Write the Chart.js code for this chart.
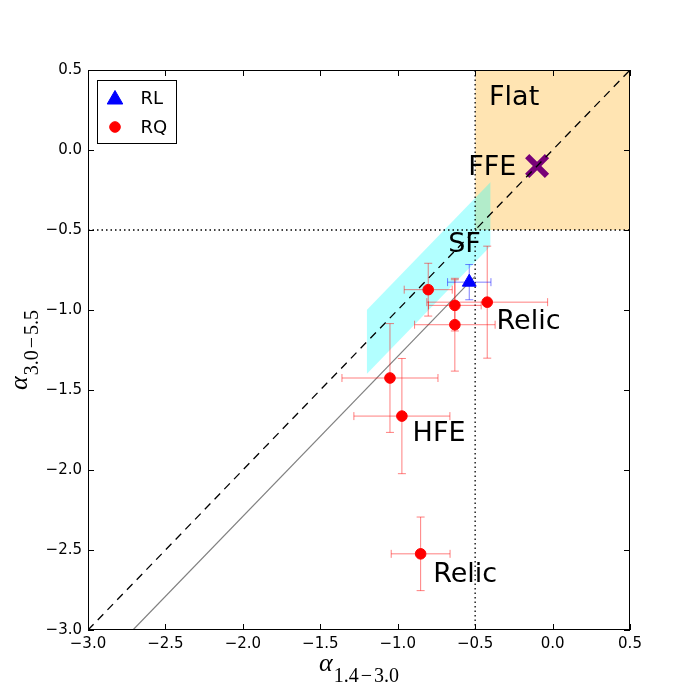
<!DOCTYPE html>
<html><head><meta charset="utf-8">
<script src="https://cdn.jsdelivr.net/npm/chart.js@4.4.1/dist/chart.umd.min.js"></script>
<style>html,body{margin:0;padding:0;background:#fff;} #c{display:block;}</style>
</head><body>
<canvas id="c" width="700" height="700"></canvas>
<script>
// ---- data ----
const tickValues = [-3.0, -2.5, -2.0, -1.5, -1.0, -0.5, 0.0, 0.5];

const rlX = [-0.538];
const rlY = [-0.826];
const rlXErr = [0.14];
const rlYErr = [0.11];

const rqX = [-0.803, -0.631, -0.631, -0.422, -1.050, -0.973, -0.852];
const rqY = [-0.873, -0.971, -1.092, -0.951, -1.425, -1.663, -2.524];
const rqXErr = [0.155, 0.17, 0.26, 0.39, 0.31, 0.31, 0.19];
const rqYErr = [0.165, 0.16, 0.29, 0.35, 0.34, 0.36, 0.23];

const ffeX = [-0.1];
const ffeY = [-0.1];

const flatX = [-0.5, 0.5];
const flatTop = [0.5, 0.5];
const flatBottom = -0.5;

const sfX = [-1.2, -0.4];
const sfUpper = [-1.0, -0.2];
const sfLower = [-1.4, -0.6];

const oneToOneX = [-3.0, 0.5];
const oneToOneY = [-3.0, 0.5];

const fitX = [-2.71, -0.5];
const fitY = [-3.0, -0.79];

const limitVal = -0.5;
const axisRange = [-3.0, 0.5];

const regionLabels = ['Flat', 'FFE', 'SF', 'Relic', 'HFE', 'Relic'];
const regionLabelX = [-0.41, -0.545, -0.674, -0.362, -0.904, -0.771];
const regionLabelY = [0.28, -0.157, -0.638, -1.117, -1.821, -2.698];

const legendLabels = ['RL', 'RQ'];

// ---- helpers ----
const pts = (xs, ys) => xs.map((x, i) => ({x: x, y: ys[i]}));
const fmt = v => (v < -1e-9 ? '\u2212' : '') + Math.abs(v).toFixed(1);

const errorBarPlugin = {
  id: 'errorBars',
  beforeDatasetDraw(chart, args) {
    const ds = chart.data.datasets[args.index];
    if (!ds.errX) return;
    const xs = chart.scales.x, ys = chart.scales.y;
    const ctx = chart.ctx;
    ctx.save();
    ctx.strokeStyle = ds.errColor;
    ctx.lineWidth = 1;
    const cap = 4;
    ds.data.forEach((p, i) => {
      const px = xs.getPixelForValue(p.x), py = ys.getPixelForValue(p.y);
      const x0 = xs.getPixelForValue(p.x - ds.errX[i]), x1 = xs.getPixelForValue(p.x + ds.errX[i]);
      const y0 = ys.getPixelForValue(p.y - ds.errY[i]), y1 = ys.getPixelForValue(p.y + ds.errY[i]);
      ctx.beginPath();
      ctx.moveTo(x0, py); ctx.lineTo(x1, py);
      ctx.moveTo(x0, py - cap); ctx.lineTo(x0, py + cap);
      ctx.moveTo(x1, py - cap); ctx.lineTo(x1, py + cap);
      ctx.moveTo(px, y0); ctx.lineTo(px, y1);
      ctx.moveTo(px - cap, y0); ctx.lineTo(px + cap, y0);
      ctx.moveTo(px - cap, y1); ctx.lineTo(px + cap, y1);
      ctx.stroke();
    });
    ctx.restore();
  }
};

const decorPlugin = {
  id: 'decor',
  afterDatasetsDraw(chart) {
    const ctx = chart.ctx, xs = chart.scales.x, ys = chart.scales.y;
    ctx.save();
    ctx.fillStyle = '#000';
    ctx.font = '27px "DejaVu Sans"';
    ctx.textAlign = 'left';
    ctx.textBaseline = 'alphabetic';
    regionLabels.forEach((t, i) => {
      ctx.fillText(t, xs.getPixelForValue(regionLabelX[i]), ys.getPixelForValue(regionLabelY[i]));
    });
    ctx.restore();
  },
  afterDraw(chart) {
    const ctx = chart.ctx, a = chart.chartArea, xs = chart.scales.x, ys = chart.scales.y;
    ctx.save();
    // frame
    ctx.strokeStyle = '#000';
    ctx.lineWidth = 1;
    ctx.strokeRect(a.left + 0.5, a.top + 0.5, a.right - a.left - 1, a.bottom - a.top - 1);
    // inward ticks
    const tl = 6;
    ctx.beginPath();
    tickValues.forEach(v => {
      const px = Math.round(xs.getPixelForValue(v)) + 0.5;
      ctx.moveTo(px, a.bottom); ctx.lineTo(px, a.bottom - tl);
      ctx.moveTo(px, a.top); ctx.lineTo(px, a.top + tl);
      const py = Math.round(ys.getPixelForValue(v)) + 0.5;
      ctx.moveTo(a.left, py); ctx.lineTo(a.left + tl, py);
      ctx.moveTo(a.right, py); ctx.lineTo(a.right - tl, py);
    });
    ctx.stroke();

    // legend
    const lx = 97.5, ly = 80.5, lw = 79, lh = 63;
    ctx.fillStyle = '#fff';
    ctx.fillRect(lx, ly, lw, lh);
    ctx.strokeRect(lx, ly, lw, lh);
    const rl = chart.data.datasets.find(d => d.id === 'RL');
    const rq = chart.data.datasets.find(d => d.id === 'RQ');
    ctx.fillStyle = rl.backgroundColor; ctx.strokeStyle = rl.borderColor; ctx.lineWidth = 1;
    Chart.helpers.drawPoint(ctx, {pointStyle: 'triangle', radius: 9, rotation: 0, borderWidth: 1}, 115, 99.5);
    ctx.fillStyle = rq.backgroundColor; ctx.strokeStyle = rq.borderColor;
    Chart.helpers.drawPoint(ctx, {pointStyle: 'circle', radius: 5.3, rotation: 0, borderWidth: 1}, 115, 127);
    ctx.fillStyle = '#000';
    ctx.font = '18px "DejaVu Sans"';
    ctx.textBaseline = 'alphabetic';
    ctx.textAlign = 'left';
    ctx.fillText(legendLabels[0], 140.5, 104);
    ctx.fillText(legendLabels[1], 140.5, 133);

    // axis titles
    const A_FONT = 'italic 26px "Liberation Serif"';
    const S_FONT = '20px "Liberation Serif"';
    const drawAlpha = () => {
      ctx.textBaseline = 'alphabetic';
      ctx.textAlign = 'left';
      ctx.font = A_FONT;
      ctx.fillText('\u03B1', 0, 0);
      return ctx.measureText('\u03B1').width + 1;
    };
    const drawSub = (x, a1, a2) => {
      ctx.font = S_FONT;
      ctx.fillText(a1, x, 11); x += ctx.measureText(a1).width + 2;
      ctx.fillText('\u2212', x, 11); x += ctx.measureText('\u2212').width + 2;
      ctx.fillText(a2, x, 11); x += ctx.measureText(a2).width;
      return x;
    };
    const measure = (a1, a2) => {
      ctx.font = A_FONT;
      let w = ctx.measureText('\u03B1').width + 1;
      ctx.font = S_FONT;
      w += ctx.measureText(a1).width + 2 + ctx.measureText('\u2212').width + 2 + ctx.measureText(a2).width;
      return w;
    };
    // x title
    const cx = (a.left + a.right) / 2;
    let w = measure('1.4', '3.0');
    ctx.save();
    ctx.translate(cx - w / 2, 671);
    drawSub(drawAlpha(), '1.4', '3.0');
    ctx.restore();
    // y title
    const cy = (a.top + a.bottom) / 2;
    w = measure('3.0', '5.5');
    ctx.save();
    ctx.translate(27, cy + w / 2);
    ctx.rotate(-Math.PI / 2);
    drawSub(drawAlpha(), '3.0', '5.5');
    ctx.restore();

    ctx.restore();
  }
};

const lineBase = {type: 'line', pointRadius: 0, showLine: true, tension: 0, fill: false};

new Chart(document.getElementById('c'), {
  type: 'scatter',
  data: {
    datasets: [
      Object.assign({}, lineBase, {
        id: 'flat', data: pts(flatX, flatTop), borderColor: 'transparent', borderWidth: 1,
        backgroundColor: 'rgba(255,165,0,0.3)', fill: {value: flatBottom}, order: 20
      }),
      Object.assign({}, lineBase, {
        id: 'sfLower', data: pts(sfX, sfLower), borderColor: 'transparent', borderWidth: 1, order: 19
      }),
      Object.assign({}, lineBase, {
        id: 'sfUpper', data: pts(sfX, sfUpper), borderColor: 'transparent', borderWidth: 1,
        backgroundColor: 'rgba(0,255,255,0.3)', fill: '-1', order: 18
      }),
      Object.assign({}, lineBase, {
        id: 'hLimit', data: pts(axisRange, [limitVal, limitVal]), borderColor: '#000', borderWidth: 1.3,
        borderDash: [1.5, 3], order: 15
      }),
      Object.assign({}, lineBase, {
        id: 'vLimit', data: pts([limitVal, limitVal], axisRange), borderColor: '#000', borderWidth: 1.3,
        borderDash: [1.5, 3], order: 15
      }),
      {
        id: 'FFE', data: pts(ffeX, ffeY), pointStyle: 'crossRot', pointRadius: 14,
        borderColor: '#780078', backgroundColor: '#780078', pointBorderWidth: 6, order: 12
      },
      Object.assign({}, lineBase, {
        id: 'oneToOne', data: pts(oneToOneX, oneToOneY), borderColor: '#000', borderWidth: 1.3,
        borderDash: [8, 6], order: 10
      }),
      Object.assign({}, lineBase, {
        id: 'fit', data: pts(fitX, fitY), borderColor: '#808080', borderWidth: 1.2, order: 9
      }),
      {
        id: 'RQ', data: pts(rqX, rqY), errX: rqXErr, errY: rqYErr, errColor: 'rgba(255,0,0,0.5)',
        pointStyle: 'circle', pointRadius: 5.3, backgroundColor: '#ff0000', borderColor: '#ff0000',
        pointBorderWidth: 1, order: 2
      },
      {
        id: 'RL', data: pts(rlX, rlY), errX: rlXErr, errY: rlYErr, errColor: 'rgba(0,0,255,0.5)',
        pointStyle: 'triangle', pointRadius: 8, backgroundColor: '#0000ff', borderColor: '#0000ff',
        pointBorderWidth: 1, order: 1
      }
    ]
  },
  options: {
    responsive: false,
    animation: false,
    events: [],
    layout: {padding: {left: 0, top: 70, right: 70, bottom: 0}},
    plugins: {legend: {display: false}, tooltip: {enabled: false}},
    scales: {
      x: {
        type: 'linear', min: axisRange[0], max: axisRange[1],
        afterBuildTicks: s => { s.ticks = tickValues.map(v => ({value: v})); },
        grid: {display: false, drawTicks: false},
        border: {display: false},
        ticks: {font: {family: 'DejaVu Sans', size: 15}, color: '#000', padding: 5,
                maxRotation: 0, autoSkip: false, callback: v => fmt(v)},
        afterFit: s => { s.height = 70; }
      },
      y: {
        type: 'linear', min: axisRange[0], max: axisRange[1],
        afterBuildTicks: s => { s.ticks = tickValues.map(v => ({value: v})); },
        grid: {display: false, drawTicks: false},
        border: {display: false},
        ticks: {font: {family: 'DejaVu Sans', size: 15}, color: '#000', padding: 6,
                autoSkip: false, callback: v => fmt(v)},
        afterFit: s => { s.width = 88; }
      }
    }
  },
  plugins: [errorBarPlugin, decorPlugin]
});
</script>
</body></html>
